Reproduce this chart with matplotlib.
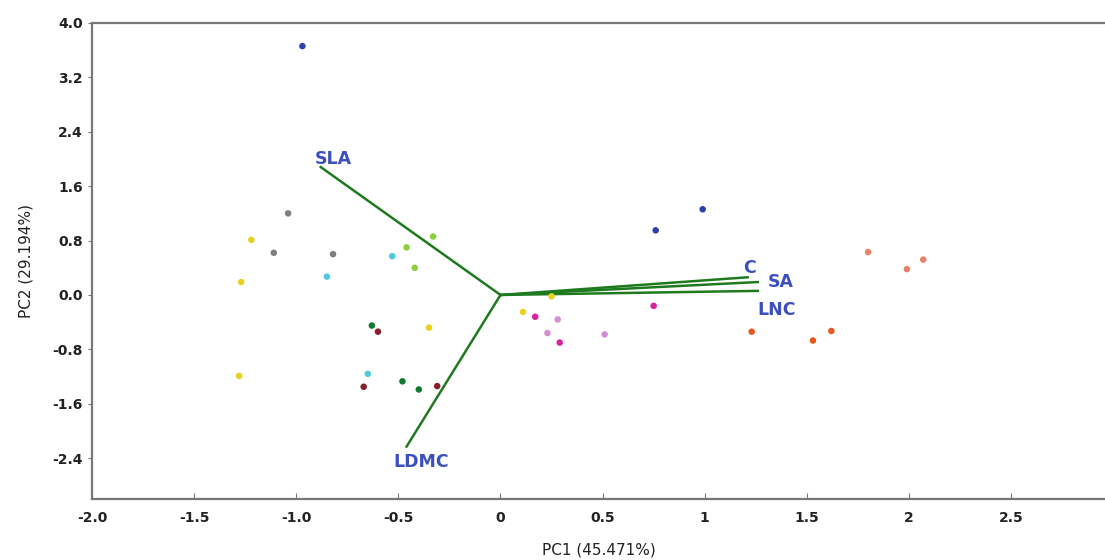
import matplotlib
matplotlib.use("Agg")
import matplotlib.pyplot as plt

# PCA scores, grouped by colour
groups = {
    "#2a3fb0": ([-0.97, 0.76, 0.99], [3.66, 0.95, 1.26]),
    "#7f7f7f": ([-1.04, -1.11, -0.82], [1.20, 0.62, 0.60]),
    "#e8d21e": ([-1.22, -1.27, -1.28, -0.35, 0.11, 0.25], [0.81, 0.19, -1.19, -0.48, -0.25, -0.02]),
    "#4fc9dc": ([-0.85, -0.53, -0.65], [0.27, 0.57, -1.16]),
    "#8ccf3c": ([-0.46, -0.33, -0.42], [0.70, 0.86, 0.40]),
    "#127a2e": ([-0.63, -0.48, -0.40], [-0.45, -1.27, -1.39]),
    "#8b1d2c": ([-0.60, -0.67, -0.31], [-0.54, -1.35, -1.34]),
    "#d8239a": ([0.17, 0.29, 0.75], [-0.32, -0.70, -0.16]),
    "#d48fd0": ([0.28, 0.23, 0.51], [-0.36, -0.56, -0.58]),
    "#e8806a": ([1.80, 2.07, 1.99], [0.63, 0.52, 0.38]),
    "#e65a1c": ([1.23, 1.53, 1.62], [-0.54, -0.67, -0.53]),
}

# loading vectors
traits = ["SLA", "LDMC", "C", "SA", "LNC"]
load_x = [-0.88, -0.46, 1.21, 1.26, 1.26]
load_y = [1.88, -2.23, 0.26, 0.19, 0.06]
label_x = [-0.82, -0.39, 1.22, 1.37, 1.35]
label_y = [2.00, -2.46, 0.40, 0.19, -0.22]

xticks = [-2.0, -1.5, -1.0, -0.5, 0, 0.5, 1, 1.5, 2, 2.5]
xtick_labels = ["-2.0", "-1.5", "-1.0", "-0.5", "0", "0.5", "1", "1.5", "2", "2.5"]
yticks = [4.0, 3.2, 2.4, 1.6, 0.8, 0.0, -0.8, -1.6, -2.4]

fig = plt.figure(figsize=(11.05, 5.6), dpi=100)
ax = fig.add_axes([0.0833, 0.109, 0.9167, 0.85])

for color, (xs, ys) in groups.items():
    ax.scatter(xs, ys, s=22, color=color, edgecolors="none", zorder=3)

for name, lx, ly, tx, ty in zip(traits, load_x, load_y, label_x, label_y):
    ax.plot([0, lx], [0, ly], color="#1f7a1f", lw=1.8, zorder=2)
    ax.text(tx, ty, name, color="#3b4fbf", fontsize=12.5, fontweight="bold",
            ha="center", va="center")

ax.set_xlim(-2.0, 2.96)
ax.set_ylim(-3.0, 4.0)
ax.set_xticks(xticks)
ax.set_xticklabels(xtick_labels)
ax.set_yticks(yticks)
ax.set_yticklabels([f"{v:.1f}" for v in yticks])
for lab in ax.get_xticklabels() + ax.get_yticklabels():
    lab.set_fontweight("bold")
    lab.set_fontsize(10)
    lab.set_color("#222222")
ax.tick_params(axis="x", direction="in", length=4, color="#777777", pad=9)
ax.tick_params(axis="y", direction="out", length=3, color="#777777")

for side in ["left", "bottom", "top"]:
    ax.spines[side].set_color("#777777")
    ax.spines[side].set_linewidth(1.6)
ax.spines["right"].set_visible(False)

ax.set_xlabel("PC1 (45.471%)", fontsize=11, color="#222222", labelpad=12)
ax.set_ylabel("PC2 (29.194%)", fontsize=11, color="#222222", labelpad=14)

fig.savefig("out.png", dpi=100)
